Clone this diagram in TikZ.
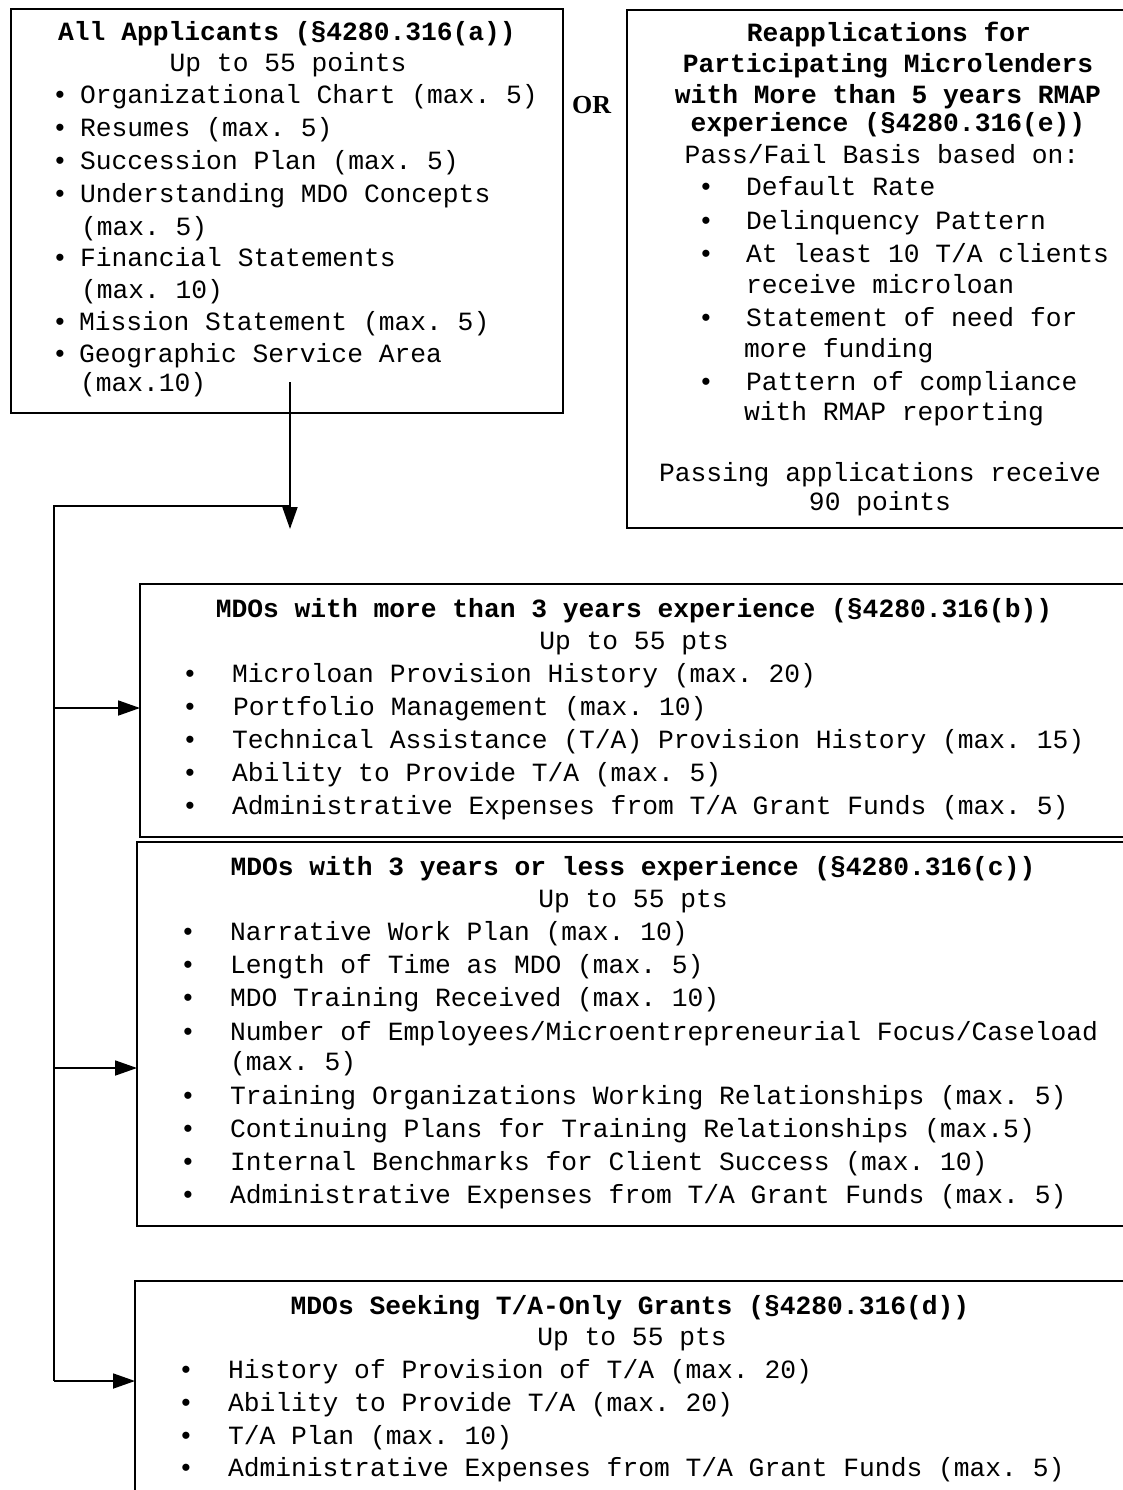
\documentclass[tikz,border=0pt]{standalone}
\usepackage{fontspec}
\setmonofont{Liberation Mono}
\newfontfamily\orfont{Liberation Serif}
\usetikzlibrary{arrows.meta}
\newcommand\itm[5]{%
  \node[txt,anchor=base] (#1b) at (#2,#4) {•};
  \node[txt,anchor=base west] (#1) at (#3,#4) {#5};}
\newcommand\lin[4]{\node[txt,anchor=base west] (#1) at (#2,#3) {#4};}
\newcommand\ctr[4]{\node[txt,anchor=base] (#1) at (#2,#3) {#4};}
\newcommand\ttlc[4]{\node[ttl,anchor=base] (#1) at (#2,#3) {#4};}
\begin{document}
\begin{tikzpicture}[x=1pt,y=-1pt,
  box/.style={draw, line width=1.8pt, rectangle, inner sep=0pt, outer sep=0pt, anchor=north west},
  txt/.style={inner sep=0pt, outer sep=0pt, font=\fontsize{26.3pt}{32pt}\selectfont\ttfamily},
  ttl/.style={inner sep=0pt, outer sep=0pt, font=\fontsize{26.3pt}{32pt}\selectfont\ttfamily\bfseries},
  ln/.style={line width=1.8pt},
  arr/.style={line width=1.8pt, -{Triangle[length=22pt,width=15pt]}}]
\useasboundingbox (0,0) rectangle (1123,1490);
\clip (0,0) rectangle (1123,1490);
\fill[white] (0,0) rectangle (1123,1490);

% boxes
\node[box, minimum width=552pt, minimum height=404pt] (b1) at (11,9) {};
\node[box, minimum width=520pt, minimum height=518pt] (b2) at (627,10) {};
\node[box, minimum width=1010pt, minimum height=253pt] (b3) at (140,584) {};
\node[box, minimum width=1012pt, minimum height=384pt] (b4) at (137,842) {};
\node[box, minimum width=1014pt, minimum height=260pt] (b5) at (135,1281) {};

% OR
\node[inner sep=0pt, anchor=base west, font=\fontsize{26pt}{30pt}\selectfont\orfont\bfseries] (or) at (572,114) {OR};

% box 1 text
\ttlc{a0}{287}{41}{All Applicants (§4280.316(a))}
\ctr{a1}{288}{72}{Up to 55 points}
\itm{a2}{60}{80}{104}{Organizational Chart (max. 5)}
\itm{a3}{60}{80}{137}{Resumes (max. 5)}
\itm{a4}{60}{80}{170}{Succession Plan (max. 5)}
\itm{a5}{60}{80}{203}{Understanding MDO Concepts}
\lin{a6}{81}{235}{(max. 5)}
\itm{a7}{60}{80}{266}{Financial Statements}
\lin{a8}{81}{298}{(max. 10)}
\itm{a9}{60}{79}{330}{Mission Statement (max. 5)}
\itm{a10}{60}{79}{362}{Geographic Service Area}
\lin{a11}{80}{391}{(max.10)}

% box 2 text
\ttlc{c0}{889}{42}{Reapplications for}
\ttlc{c1}{888}{73}{Participating Microlenders}
\ttlc{c2}{888}{104}{with More than 5 years RMAP}
\ttlc{c3}{888}{132}{experience (§4280.316(e))}
\ctr{c4}{882}{164}{Pass/Fail Basis based on:}
\itm{c5}{706}{746}{196}{Default Rate}
\itm{c6}{706}{746}{229}{Delinquency Pattern}
\itm{c7}{706}{746}{262}{At least 10 T/A clients}
\lin{c8}{746}{293}{receive microloan}
\itm{c9}{706}{746}{326}{Statement of need for}
\lin{c10}{744}{357}{more funding}
\itm{c11}{706}{746}{390}{Pattern of compliance}
\lin{c12}{744}{420}{with RMAP reporting}
\ctr{c13}{880}{481}{Passing applications receive}
\ctr{c14}{880}{510}{90 points}

% box 3 text
\ttlc{d0}{634}{617}{MDOs with more than 3 years experience (§4280.316(b))}
\ctr{d1}{634}{649}{Up to 55 pts}
\itm{d2}{190}{232}{682}{Microloan Provision History (max. 20)}
\itm{d3}{190}{233}{715}{Portfolio Management (max. 10)}
\itm{d4}{190}{232}{748}{Technical Assistance (T/A) Provision History (max. 15)}
\itm{d5}{190}{232}{781}{Ability to Provide T/A (max. 5)}
\itm{d6}{190}{232}{814}{Administrative Expenses from T/A Grant Funds (max. 5)}

% box 4 text
\ttlc{e0}{633}{875}{MDOs with 3 years or less experience (§4280.316(c))}
\ctr{e1}{633}{907}{Up to 55 pts}
\itm{e2}{188}{230}{940}{Narrative Work Plan (max. 10)}
\itm{e3}{188}{230}{973}{Length of Time as MDO (max. 5)}
\itm{e4}{188}{230}{1006}{MDO Training Received (max. 10)}
\itm{e5}{188}{230}{1040}{Number of Employees/Microentrepreneurial Focus/Caseload}
\lin{e6}{230}{1070}{(max. 5)}
\itm{e7}{188}{230}{1104}{Training Organizations Working Relationships (max. 5)}
\itm{e8}{188}{230}{1137}{Continuing Plans for Training Relationships (max.5)}
\itm{e9}{188}{230}{1170}{Internal Benchmarks for Client Success (max. 10)}
\itm{e10}{188}{230}{1203}{Administrative Expenses from T/A Grant Funds (max. 5)}

% box 5 text
\ttlc{f0}{630}{1314}{MDOs Seeking T/A-Only Grants (§4280.316(d))}
\ctr{f1}{632}{1345}{Up to 55 pts}
\itm{f2}{186}{228}{1378}{History of Provision of T/A (max. 20)}
\itm{f3}{186}{228}{1411}{Ability to Provide T/A (max. 20)}
\itm{f4}{186}{228}{1444}{T/A Plan (max. 10)}
\itm{f5}{186}{228}{1476}{Administrative Expenses from T/A Grant Funds (max. 5)}

% connectors
\coordinate (src) at (290,382);
\coordinate (tip) at (290,529);
\coordinate (jn) at (290,506);
\coordinate (tl) at (54,506);
\coordinate (t3) at (54,708);
\coordinate (t4) at (54,1068);
\coordinate (t5) at (54,1381);
\draw[arr] (src) -- (tip);
\draw[ln] (jn) -- (tl) -- (t5);
\draw[arr] (t3) -- (t3 -| b3.west);
\draw[arr] (t4) -- (t4 -| b4.west);
\draw[arr] (t5) -- (t5 -| b5.west);
\end{tikzpicture}
\end{document}
